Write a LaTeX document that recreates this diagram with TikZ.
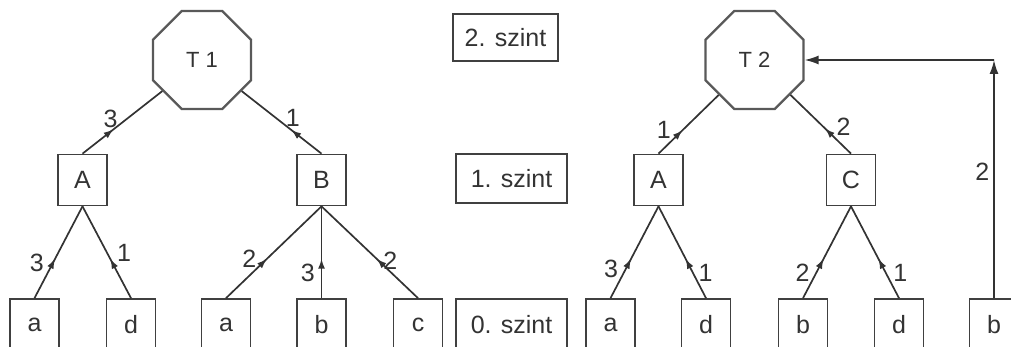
\documentclass[tikz,border=0pt]{standalone}
\usepackage{fontspec}
\setmainfont{Liberation Sans}
\usetikzlibrary{shapes.geometric,arrows.meta,decorations.markings}
\tikzset{
  box/.style={draw=black!75, line width=1.7pt, fill=white, minimum width=49pt,
    minimum height=51pt, inner sep=0pt, font=\fontsize{25}{28}\selectfont, text=black!80},
  lvl/.style={box, minimum width=111pt, minimum height=49pt},
  oct/.style={regular polygon, regular polygon sides=8, draw=black!65, line width=2.2pt,
    fill=white, minimum size=106pt, inner sep=0pt, font=\fontsize{22}{24}\selectfont, text=black!80},
  wire/.style={draw=black!80, line width=1.7pt},
  link/.style={wire, postaction=decorate, decoration={markings,
    mark=at position #1 with {\arrow{Latex[length=10pt,width=7pt]}}}},
  link/.default=0.43,
  num/.style={inner sep=0pt, font=\fontsize{25}{28}\selectfont, text=black!80}
}
\begin{document}
\begin{tikzpicture}[x=1pt,y=-1pt]
\useasboundingbox (0,0) rectangle (1011,347);
\clip (0,0) rectangle (1011,347);

% level markers
\node[lvl, minimum width=105pt, minimum height=47pt] (L2) at (505.5,37.5) {2. szint};
\node[lvl] (L1) at (511.5,178.5) {1. szint};
\node[lvl, minimum height=51pt] (L0) at (511.5,324.5) {0. szint};

% first tree
\node[oct] (T1) at (202,60) {T 1};
\node[box] (A1) at (82.5,180) {A};
\node[box] (B1) at (321.5,180) {B};
\node[box] (a1) at (34.5,324.5) {a};
\node[box] (d1) at (131,324.5) {d};
\node[box] (a2) at (226,324.5) {a};
\node[box] (b2) at (321.5,324.5) {b};
\node[box] (c2) at (418,324.5) {c};

\draw[link=0.39] (A1.north) -- (T1) node[num,pos=0.55,left=8pt]{3};
\draw[link=0.38] (B1.north) -- (T1) node[num,pos=0.57,right=9pt]{1};
\draw[link] (a1.north) -- (A1.south) node[num,pos=0.38,left=8pt]{3};
\draw[link] (d1.north) -- (A1.south) node[num,pos=0.49,right=9pt]{1};
\draw[link] (a2.north) -- (B1.south) node[num,pos=0.43,left=10pt]{2};
\draw[link] (b2.north) -- (B1.south) node[num,pos=0.28,left=6pt]{3};
\draw[link] (c2.north) -- (B1.south) node[num,pos=0.41,right=4pt]{2};

% second tree
\node[oct] (T2) at (754.5,60) {T 2};
\node[box] (A3) at (658.5,180) {A};
\node[box] (C3) at (851,180) {C};
\node[box] (a4) at (610.5,324.5) {a};
\node[box] (d4) at (706,324.5) {d};
\node[box] (b4) at (803,324.5) {b};
\node[box] (d5) at (899,324.5) {d};
\node[box] (b5) at (994,324.5) {b};
\coordinate (k) at (994,60);

\draw[link=0.4] (A3.north) -- (T2) node[num,pos=0.4,left=11pt]{1};
\draw[link] (C3.north) -- (T2) node[num,pos=0.45,right=12pt]{2};
\draw[link] (a4.north) -- (A3.south) node[num,pos=0.32,left=7pt]{3};
\draw[link] (d4.north) -- (A3.south) node[num,pos=0.28,right=5pt]{1};
\draw[link] (b4.north) -- (C3.south) node[num,pos=0.28,left=6pt]{2};
\draw[link] (d5.north) -- (C3.south) node[num,pos=0.28,right=7pt]{1};
\draw[wire,-{Latex[length=14pt,width=9pt]}] (b5.north) -- (k) node[num,pos=0.53,left=4pt]{2};
\draw[wire,-{Latex[length=14pt,width=9pt]}] (k) -- (T2.east);
\end{tikzpicture}
\end{document}
